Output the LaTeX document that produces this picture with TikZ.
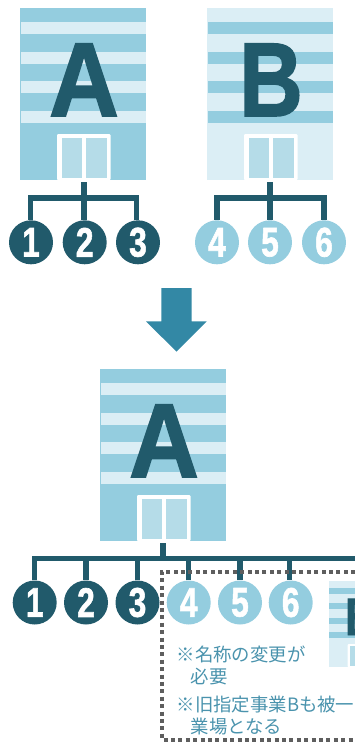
\documentclass[tikz,border=0pt]{standalone}
\usepackage{fontspec}
\setmainfont{Liberation Sans}
\newfontfamily\jpfont{Noto Sans CJK JP}
\newfontfamily\heavy[FakeBold=1.6]{Liberation Sans Bold}
\definecolor{darkc}{HTML}{215A6B}
\definecolor{midc}{HTML}{94CDDF}
\definecolor{lightc}{HTML}{DBEEF5}
\definecolor{panec}{HTML}{B5DCE8}
\definecolor{arrowc}{HTML}{3388A5}
\definecolor{notec}{HTML}{4A93AD}
\definecolor{dotc}{HTML}{5E5E5E}
\newcommand{\dg}[1]{\raisebox{-3.2pt}{\scalebox{0.86}[1.12]{#1}}}
\tikzset{
  x=1pt,y=-1pt,
  conn/.style={draw=darkc,line width=5.2pt},
  numdark/.style={circle,fill=darkc,minimum size=44pt,inner sep=0pt,text=white,font=\fontsize{37}{37}\selectfont\heavy},
  numlight/.style={circle,fill=midc,minimum size=44pt,inner sep=0pt,text=white,font=\fontsize{37}{37}\selectfont\heavy},
  bigletter/.style={inner sep=0pt,anchor=base,text=darkc,font=\fontsize{105}{105}\selectfont\heavy},
  note/.style={inner sep=0pt,anchor=base west,text=notec,font=\fontsize{18.4}{18.4}\selectfont\jpfont},
}
% name, x, y, scale, body colour, stripe colour, letter, letter x-scale
\newcommand{\bldg}[8]{%
  \begin{scope}[shift={(#2,#3)},scale=#4]
    \fill[#5] (0,0) rectangle (126,172);
    \foreach \s in {14,43.5,73,102.5}{\fill[#6] (0.7,\s) rectangle (126,\s+12);}
    \fill[white,rounded corners=1pt] (37,126) rectangle (90.5,172);
    \fill[panec] (41.5,130) rectangle (61.5,170);
    \fill[panec] (66,130) rectangle (87,170);
    \node[bigletter,scale=#4,xscale=#8] (#1) at (64,108) {#7};
  \end{scope}}
\begin{document}
\begin{tikzpicture}
\clip (0,0) rectangle (355,742);
\bldg{bldgA}{20}{8}{1}{midc}{lightc}{A}{0.92}
\bldg{bldgB}{207}{8}{1}{lightc}{midc}{B}{0.84}
\bldg{bldgC}{100}{369}{1}{midc}{lightc}{A}{0.92}
% arrow
\fill[arrowc] (161.3,288) -- (191.7,288) -- (191.7,321.3) -- (206.7,321.3) -- (176.5,351.7) -- (146,321.3) -- (161.3,321.3) -- cycle;
% upper circles
\node[numdark] (n1) at (31,242.3) {\dg{1}};
\node[numdark] (n2) at (84.7,242.3) {\dg{2}};
\node[numdark] (n3) at (138,242.3) {\dg{3}};
\node[numlight] (n4) at (217,242.3) {\dg{4}};
\node[numlight] (n5) at (270,242.3) {\dg{5}};
\node[numlight] (n6) at (324,242.3) {\dg{6}};
\coordinate (stemA) at (84,182);
\coordinate (stemB) at (270,182);
\coordinate (busA) at (84,198);
\coordinate (busB) at (270,198);
\draw[conn] (stemA) -- (stemA |- n2.north);
\draw[conn] (stemB) -- (n5.north);
\draw[conn] ([xshift=-0.7pt]n1.north) -- ([xshift=-0.7pt]n1.north |- busA) -- ([xshift=-1.5pt]n3.north |- busA) -- ([xshift=-1.5pt]n3.north);
\draw[conn] (n4.north) -- (n4.north |- busB) -- (n6.north |- busB) -- (n6.north);
% lower circles
\node[numdark] (m1) at (34.7,602.5) {\dg{1}};
\node[numdark] (m2) at (86,602.5) {\dg{2}};
\node[numdark] (m3) at (137.5,602.5) {\dg{3}};
\node[numlight] (m4) at (188.7,602.5) {\dg{4}};
\node[numlight] (m5) at (240,602.5) {\dg{5}};
\node[numlight] (m6) at (290.7,602.5) {\dg{6}};
\coordinate (stemC) at (163,543);
\coordinate (busC) at (163,558.8);
\coordinate (busEnd) at (360,558.8);
\draw[conn] (stemC) -- (busC);
\draw[conn] (m1.north) -- (m1.north |- busC) -- (busEnd);
\foreach \k in {m2,m3,m4,m5} {\draw[conn] (\k.north) -- (\k.north |- busC);}
\draw[conn] ([xshift=-1.5pt]m6.north) -- ([xshift=-1.5pt]m6.north |- busC);
% small B
\bldg{bldgD}{329}{581}{0.5}{lightc}{midc}{B}{0.84}
% dotted frame
\coordinate (frameTL) at (162,571.7);
\coordinate (frameBR) at (370,739.5);
\draw[dotc,line width=4pt,dash pattern=on 4pt off 3.4pt] (frameBR |- frameTL) -- (frameTL) -- (frameTL |- frameBR) -- (frameBR);
% notes
\node[note] (t1) at (176.5,661) {※名称の変更が};
\node[note] (t2) at (190.5,683) {必要};
\node[note] (t3) at (176.5,711) {※旧指定事業Bも被一};
\node[note] (t4) at (190.5,733) {業場となる};
\end{tikzpicture}
\end{document}
